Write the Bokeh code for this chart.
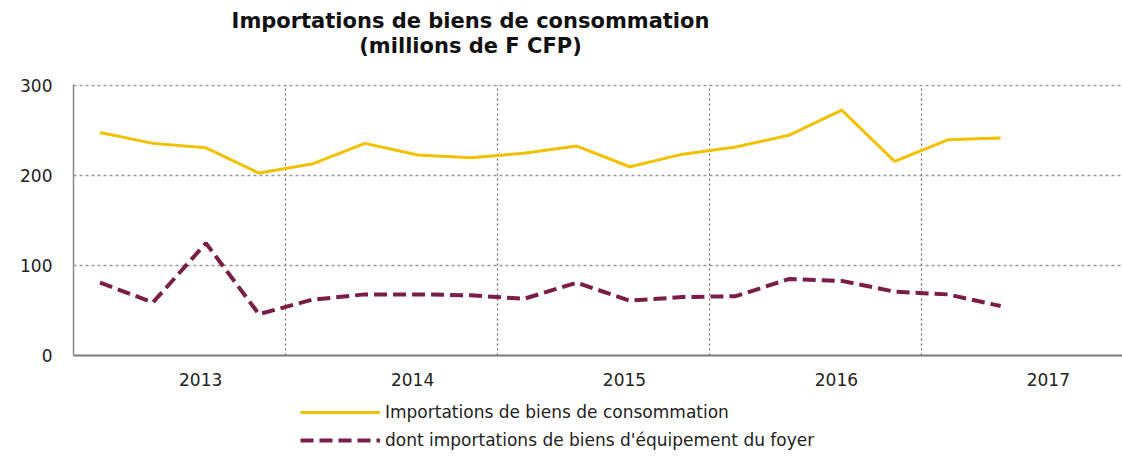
from bokeh.plotting import figure
from bokeh.layouts import column
from bokeh.models import (Range1d, FixedTicker, Legend, LegendItem, Label)
from bokeh.embed import file_html
from bokeh.resources import INLINE

# ---- data ----
years = ["2013", "2014", "2015", "2016", "2017"]
title_lines = ["Importations de biens de consommation", "(millions de F CFP)"]
series_names = ["Importations de biens de consommation",
                "dont importations de biens d'équipement du foyer"]
consommation = [248, 236, 231, 203, 213, 236, 223, 220, 225, 233, 210, 224,
                232, 245, 273, 216, 240, 242]
equipement = [81, 59, 125, 46, 62, 68, 68, 67, 63, 81, 61, 65, 66, 85, 83,
              71, 68, 55]
y_ticks = [0, 100, 200, 300]

# quarter positions (4 quarters per year)
xq = [i + 0.5 for i in range(len(consommation))]
year_bounds = [4 * (k + 1) for k in range(len(years) - 1)]
year_label_pos = [4 * k + 2.4 for k in range(len(years))]

FONT = "DejaVu Sans"
YELLOW = "#F3C100"
MAROON = "#7A1E46"
DASH = "13 6"
W = 1122
LEFT = 73

# ---- title strip ----
tf = figure(width=W, height=73, output_backend="svg", toolbar_location=None,
            x_range=Range1d(0, W - LEFT), y_range=Range1d(0, 73),
            x_axis_type=None, y_axis_type=None,
            min_border_left=LEFT, min_border_right=0,
            min_border_top=0, min_border_bottom=0)
tf.outline_line_color = None
tf.xgrid.visible = False
tf.ygrid.visible = False
for txt, yy in zip(title_lines, [53, 28]):
    tf.add_layout(Label(x=397, y=yy, text=txt, text_align="center",
                        text_baseline="middle", text_font=FONT,
                        text_font_style="bold", text_font_size="21px",
                        text_color="#111111"))

# ---- main chart ----
p = figure(width=W, height=322, output_backend="svg", toolbar_location=None,
           x_range=Range1d(0, 19.8), y_range=Range1d(0, 301.5),
           min_border_left=LEFT, min_border_right=0, min_border_top=11,
           min_border_bottom=40)
p.outline_line_color = None
p.background_fill_color = "white"

p.line(xq, consommation, line_color=YELLOW, line_width=3)
p.line(xq, equipement, line_color=MAROON, line_width=4, line_dash=DASH)

p.yaxis.ticker = FixedTicker(ticks=y_ticks)
p.yaxis.major_tick_line_color = None
p.yaxis.minor_tick_line_color = None
p.yaxis.axis_line_color = "#8a8a8a"
p.yaxis.axis_line_width = 1.5
p.yaxis.major_label_text_font = FONT
p.yaxis.major_label_text_font_size = "17px"
p.yaxis.major_label_text_color = "#222222"
p.yaxis.major_label_standoff = 15

p.xaxis.ticker = FixedTicker(ticks=year_label_pos)
p.xaxis.major_label_overrides = {pos: y for pos, y in zip(year_label_pos, years)}
p.xaxis.major_tick_line_color = None
p.xaxis.minor_tick_line_color = None
p.xaxis.axis_line_color = "#7a7a7a"
p.xaxis.axis_line_width = 2
p.xaxis.major_label_text_font = FONT
p.xaxis.major_label_text_font_size = "17px"
p.xaxis.major_label_text_color = "#222222"
p.xaxis.major_label_standoff = 11

p.ygrid.ticker = FixedTicker(ticks=y_ticks)
p.ygrid.grid_line_color = "#9a9a9a"
p.ygrid.grid_line_dash = "3 3"
p.ygrid.grid_line_width = 1.5
p.xgrid.ticker = FixedTicker(ticks=year_bounds)
p.xgrid.grid_line_color = "#6a6a6a"
p.xgrid.grid_line_dash = "2 3"
p.xgrid.grid_line_width = 1.2

# ---- legend strip (same series, lines kept out of view) ----
lg = figure(width=W, height=74, output_backend="svg", toolbar_location=None,
            x_range=Range1d(1000, 1001), y_range=Range1d(0, 300),
            x_axis_type=None, y_axis_type=None,
            min_border_left=LEFT, min_border_right=0,
            min_border_top=0, min_border_bottom=0)
lg.outline_line_color = None
lg.xgrid.visible = False
lg.ygrid.visible = False
q1 = lg.line(xq, consommation, line_color=YELLOW, line_width=3)
q2 = lg.line(xq, equipement, line_color=MAROON, line_width=4, line_dash=DASH)
legend = Legend(items=[LegendItem(label=series_names[0], renderers=[q1]),
                       LegendItem(label=series_names[1], renderers=[q2])],
                location=(227, 19), orientation="vertical",
                glyph_width=80, glyph_height=20, label_standoff=5,
                label_height=20, spacing=8, padding=0, margin=0,
                border_line_color=None, background_fill_alpha=0,
                label_text_font=FONT, label_text_font_size="17px",
                label_text_color="#222222")
lg.add_layout(legend, "center")

layout = column(tf, p, lg, spacing=0)
open("out.html", "w").write(file_html(layout, INLINE))
